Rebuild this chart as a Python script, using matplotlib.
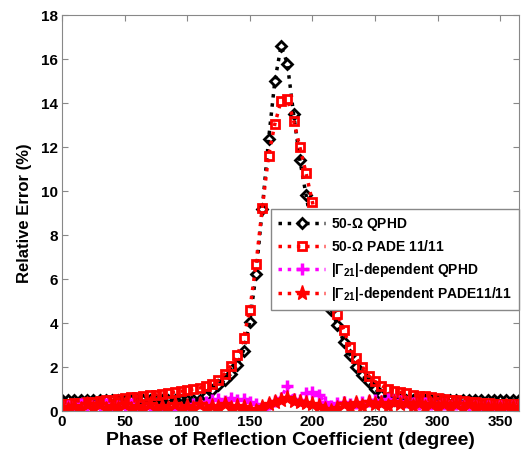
import numpy as np
import matplotlib
matplotlib.use('Agg')
import matplotlib.pyplot as plt

plt.rcParams['font.family'] = ['Liberation Sans', 'DejaVu Sans']
plt.rcParams['font.weight'] = 'bold'
plt.rcParams['mathtext.fontset'] = 'custom'
plt.rcParams['mathtext.rm'] = 'Liberation Sans'
plt.rcParams['mathtext.bf'] = 'Liberation Sans:bold'

# phase grid (degree)
phase = np.arange(0, 366, 5)

# 50-ohm QPHD
qphd_50 = [0.5] * 23 + [
    0.7, 0.95, 1.2, 1.4, 1.7, 2.1, 2.75, 4.05, 6.25, 9.2,
    12.35, 15.0, 16.6, 15.8, 13.5, 11.4, 9.8, 8.2, 6.8, 5.6,
    4.6, 3.9, 3.15, 2.55, 2.0, 1.65, 1.3, 1.0, 0.75, 0.6] + [0.5] * 21

# 50-ohm PADE 11/11
pade_50 = [
    0.3, 0.32, 0.35, 0.38, 0.4, 0.43, 0.46, 0.5, 0.52, 0.55,
    0.58, 0.62, 0.65, 0.68, 0.72, 0.75, 0.78, 0.82, 0.86, 0.9,
    0.95, 1.0, 1.05, 1.12, 1.25, 1.4, 1.7, 2.06, 2.55, 3.3,
    4.6, 6.7, 9.25, 11.6, 13.05, 14.1, 14.2, 13.2, 12.0, 10.8,
    9.5, 8.2, 6.9, 5.5, 4.4, 3.7, 2.9, 2.4, 2.0, 1.6,
    1.35, 1.15, 1.0, 0.92, 0.85, 0.8, 0.75, 0.7, 0.66, 0.62,
    0.58, 0.55, 0.52, 0.48, 0.45, 0.42, 0.4, 0.37, 0.35, 0.33,
    0.32, 0.3, 0.3, 0.3]

# |G21|-dependent QPHD
qphd_g21 = [
    0.2, 0.25, 0.2, 0.3, 0.2, 0.25, 0.2, 0.3, 0.15, 0.25,
    0.2, 0.3, 0.2, 0.15, 0.25, 0.1, 0.2, 0.05, 0.0, 0.1,
    0.2, 0.3, 0.35, 0.4, 0.5, 0.55, 0.45, 0.6, 0.5, 0.55,
    0.4, 0.3, 0.1, 0.3, 0.45, 0.6, 1.15, 0.55, 0.5, 0.8,
    0.85, 0.75, 0.4, 0.25, 0.35, 0.4, 0.3, 0.35, 0.4, 0.45,
    0.5, 0.45, 0.55, 0.5, 0.45, 0.4, 0.35, 0.3, 0.35, 0.3,
    0.25, 0.3, 0.25, 0.3, 0.25, 0.2, 0.25, 0.2, 0.25, 0.2,
    0.25, 0.2, 0.25, 0.2]

# |G21|-dependent PADE 11/11
pade_g21 = [
    0.2, 0.1, 0.25, 0.1, 0.3, 0.15, 0.3, 0.1, 0.25, 0.15,
    0.3, 0.1, 0.25, 0.15, 0.3, 0.1, 0.25, 0.15, 0.3, 0.1,
    0.25, 0.15, 0.3, 0.1, 0.25, 0.2, 0.3, 0.15, 0.25, 0.2,
    0.1, 0.0, 0.2, 0.3, 0.4, 0.5, 0.6, 0.45, 0.4, 0.35,
    0.3, 0.25, 0.1, 0.0, 0.15, 0.3, 0.2, 0.35, 0.25, 0.4,
    0.3, 0.35, 0.25, 0.4, 0.3, 0.35, 0.25, 0.35, 0.2, 0.3,
    0.2, 0.3, 0.2, 0.3, 0.15, 0.3, 0.2, 0.25, 0.15, 0.25,
    0.15, 0.25, 0.2, 0.2]

fig = plt.figure(figsize=(5.27, 4.58), dpi=100)
ax = fig.add_axes([0.1176, 0.1026, 0.8672, 0.8644])

ax.plot(phase, qphd_50, ':', color='black', lw=2.5, marker='D', ms=5.5,
        mfc='none', mec='black', mew=2, label=r'50-$\Omega$ QPHD')
ax.plot(phase, pade_50, ':', color='red', lw=2.5, marker='s', ms=5.5,
        mfc='none', mec='red', mew=2, label=r'50-$\Omega$ PADE 11/11')
ax.plot(phase, qphd_g21, ':', color='magenta', lw=2.5, marker='+', ms=8,
        mew=2.5, label=r'|$\Gamma_{\mathbf{21}}$|-dependent QPHD')
ax.plot(phase, pade_g21, ':', color='red', lw=2.5, marker='*', ms=11,
        mfc='red', mec='red', label=r'|$\Gamma_{\mathbf{21}}$|-dependent PADE11/11')

ax.set_xlim(0, 365)
ax.set_ylim(0, 18)
ax.set_xticks(np.arange(0, 351, 50))
ax.set_yticks(np.arange(0, 19, 2))
ax.tick_params(direction='in', top=True, right=True, labelsize=11,
               length=4, color='#888888', pad=3)
for s in ax.spines.values():
    s.set_color('#888888')
for lab in ax.get_xticklabels() + ax.get_yticklabels():
    lab.set_fontweight('bold')

ax.set_xlabel('Phase of Reflection Coefficient (degree)', fontsize=14,
              fontweight='bold', labelpad=2)
ax.set_ylabel('Relative Error (%)', fontsize=12, fontweight='bold', labelpad=6)

leg = ax.legend(loc='upper right', bbox_to_anchor=(1.0, 0.51), fontsize=10,
                frameon=True, fancybox=False, edgecolor='#888888',
                framealpha=1.0, handlelength=3.4, borderpad=0.5,
                labelspacing=0.45, handletextpad=0.4, borderaxespad=0)
leg.get_frame().set_linewidth(1.0)
for t in leg.get_texts():
    t.set_fontweight('bold')

plt.savefig('out.png', dpi=100)
